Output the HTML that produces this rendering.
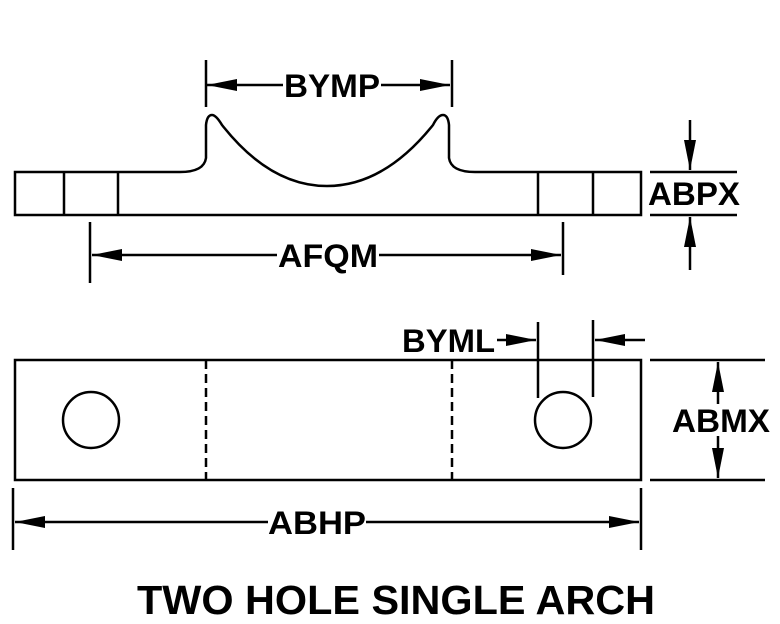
<!DOCTYPE html>
<html><head><style>body{margin:0;background:#fff}svg{display:block}text{font-family:"Liberation Sans",sans-serif;font-weight:bold;fill:#000}</style></head>
<body>
<svg width="780" height="624" viewBox="0 0 780 624" xmlns="http://www.w3.org/2000/svg">
<defs>
<marker id="a" viewBox="0 0 10 10" refX="10" refY="5" markerWidth="30" markerHeight="12" markerUnits="userSpaceOnUse" orient="auto-start-reverse" preserveAspectRatio="none"><path d="M0,0L10,5L0,10z" fill="#000"/></marker>
</defs>
<g stroke="#000" stroke-width="2.5" fill="none">
<path d="M15,172H180Q204,172 206,158V125Q207,115 212,115Q216,115 222,125Q270,186 327,186Q384,186 433,125Q438,115 443,115Q448,115 449,125V158Q451,172 475,172H641V215H15Z"/>
<path d="M64,172V215M118,172V215M538,172V215M593,172V215"/>
<path d="M206,60V107M452,60V107"/>
<path d="M90,222V283M563,222V275"/>
<path d="M650,172H737M650,215H737"/>
<rect x="15" y="360" width="626" height="120"/>
<path d="M206,360V480M452,360V480" stroke-dasharray="9,5"/>
<circle cx="91" cy="420" r="28"/>
<circle cx="563" cy="420" r="28"/>
<path d="M538,322V398M593,320V397"/>
<path d="M650,360H765M650,480H765"/>
<path d="M13,488V550M641,488V550"/>
</g>
<g stroke="#000" stroke-width="2.5" fill="none">
<path d="M283,85H207" marker-end="url(#a)"/>
<path d="M381,85H450" marker-end="url(#a)"/>
<path d="M277,255H92" marker-end="url(#a)"/>
<path d="M379,255H561" marker-end="url(#a)"/>
<path d="M690,120V170" marker-end="url(#a)"/>
<path d="M690,270V217" marker-end="url(#a)"/>
<path d="M497,340H536" marker-end="url(#a)"/>
<path d="M645,340H595" marker-end="url(#a)"/>
<path d="M718,404V362" marker-end="url(#a)"/>
<path d="M718,436V478" marker-end="url(#a)"/>
<path d="M268,522H15" marker-end="url(#a)"/>
<path d="M366,522H639" marker-end="url(#a)"/>
</g>
<g font-size="32">
<text x="284" y="97" textLength="96" lengthAdjust="spacingAndGlyphs">BYMP</text>
<text x="278" y="267" textLength="100" lengthAdjust="spacingAndGlyphs">AFQM</text>
<text x="648" y="205" textLength="92" lengthAdjust="spacingAndGlyphs">ABPX</text>
<text x="402" y="352" textLength="93" lengthAdjust="spacingAndGlyphs">BYML</text>
<text x="672" y="432" textLength="98" lengthAdjust="spacingAndGlyphs">ABMX</text>
<text x="268" y="534" textLength="98" lengthAdjust="spacingAndGlyphs">ABHP</text>
<text x="137" y="614" font-size="41" textLength="518" lengthAdjust="spacingAndGlyphs">TWO HOLE SINGLE ARCH</text>
</g>
</svg>
</body></html>
